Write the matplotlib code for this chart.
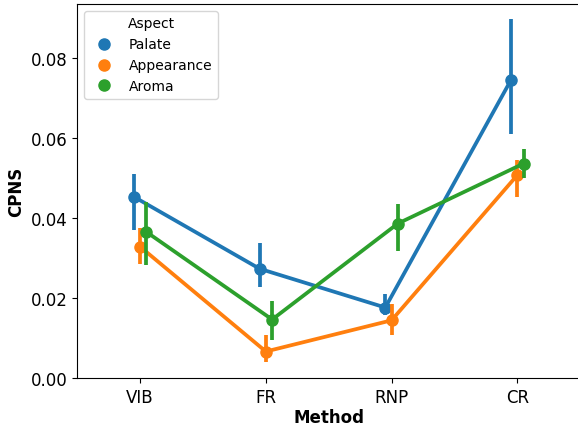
import matplotlib
matplotlib.use("Agg")
from matplotlib import pyplot as plt
from matplotlib.lines import Line2D
import numpy as np

methods = ["VIB", "FR", "RNP", "CR"]
aspects = ["Palate", "Appearance", "Aroma"]
colors = ["#1f77b4", "#ff7f0e", "#2ca02c"]

# mean CPNS per method
palate = [0.0454, 0.0274, 0.0177, 0.0746]
appearance = [0.0329, 0.0067, 0.0145, 0.0508]
aroma = [0.0366, 0.0147, 0.0387, 0.0537]

# confidence interval bounds (low, high)
palate_lo = [0.0370, 0.0229, 0.0159, 0.0610]
palate_hi = [0.0512, 0.0339, 0.0211, 0.0898]
appearance_lo = [0.0286, 0.0041, 0.0109, 0.0453]
appearance_hi = [0.0375, 0.0109, 0.0187, 0.0545]
aroma_lo = [0.0283, 0.0095, 0.0318, 0.0502]
aroma_hi = [0.0442, 0.0194, 0.0437, 0.0574]

means = [palate, appearance, aroma]
lows = [palate_lo, appearance_lo, aroma_lo]
highs = [palate_hi, appearance_hi, aroma_hi]

fig = plt.figure(figsize=(5.78, 4.27), dpi=100)
ax = fig.add_axes([0.1337, 0.1117, 0.87, 0.8766])
ax.spines["right"].set_visible(False)

x = np.arange(len(methods))
dodge = 0.1
offsets = np.linspace(0, dodge, len(aspects)) - dodge / 2

for i, name in enumerate(aspects):
    xs = x + offsets[i]
    m = np.array(means[i])
    lo = np.array(lows[i])
    hi = np.array(highs[i])
    ax.plot(xs, m, color=colors[i], lw=2.7, marker="o", markersize=8, zorder=2 + i)
    ax.vlines(xs, lo, hi, color=colors[i], lw=2.7, zorder=2 + i)

ax.set_xticks(x)
ax.set_xticklabels(methods, fontsize=12)
ax.set_xlim(-0.5, 3.5)
ax.set_ylim(0, 0.0936)
ax.set_yticks([0.0, 0.02, 0.04, 0.06, 0.08])
ax.set_yticklabels(["0.00", "0.02", "0.04", "0.06", "0.08"], fontsize=12)
ax.set_xlabel("Method", fontsize=12, fontweight="bold", labelpad=1.5)
ax.set_ylabel("CPNS", fontsize=12, fontweight="bold")

handles = [Line2D([], [], color=c, marker="o", linestyle="", markersize=8) for c in colors]
ax.legend(handles, aspects, title="Aspect", loc="upper left", fontsize=10, title_fontsize=10)

fig.savefig("out.png", dpi=100)
